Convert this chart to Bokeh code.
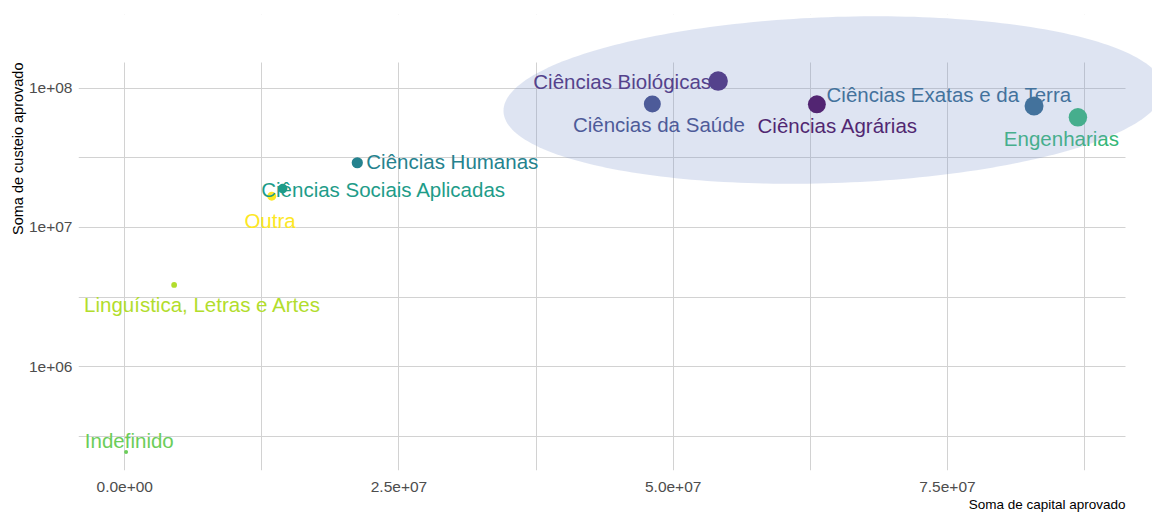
import numpy as np
from bokeh.plotting import figure
from bokeh.models import (FixedTicker, CustomJSTickFormatter, Title, PolyAnnotation,
                          BoxAnnotation, ColumnDataSource, Range1d)
from bokeh.core.properties import value
from bokeh.palettes import Viridis10
from bokeh.embed import file_html
from bokeh.resources import INLINE

# ---------------- data ----------------
areas = ["Ciências Agrárias", "Ciências Biológicas", "Ciências da Saúde",
         "Ciências Exatas e da Terra", "Ciências Humanas", "Ciências Sociais Aplicadas",
         "Engenharias", "Indefinido", "Linguística, Letras e Artes", "Outra"]
capital = [6.31e7, 5.41e7, 4.81e7, 8.29e7, 2.12e7, 1.44e7, 8.69e7, 1.2e5, 4.5e6, 1.34e7]
custeio = [7.64e7, 1.122e8, 7.68e7, 7.43e7, 2.91e7, 1.90e7, 6.16e7, 2.45e5, 3.87e6, 1.675e7]

x_ticks = [0.0, 2.5e7, 5.0e7, 7.5e7]
x_minor = [1.25e7, 3.75e7, 6.25e7, 8.75e7]
y_ticks = [1e6, 1e7, 1e8]
y_minor = [10 ** 5.5, 10 ** 6.5, 10 ** 7.5]

x_title = "Soma de capital aprovado"
y_title = "Soma de custeio aprovado"

# ---------------- styling / layout ----------------
colors = list(Viridis10)
label_dx = [21, -96, 6.6, -85, 95, 101, -16.5, 3.2, 28.4, -1.7]   # px, right
label_dy = [21, 0, 21, -11, -1, 1, 21, -11, 20, 24]               # px, down

# point size: area proportional to total (capital + custeio)
total = np.array(capital) + np.array(custeio)
d_min, d_max = 4.0, 19.5
frac = (total - total.min()) / (total.max() - total.min())
sizes = np.sqrt(d_min ** 2 + (d_max ** 2 - d_min ** 2) * frac)

# panel ranges with 5% expansion (linear x, log y)
xc = np.array(capital)
x0 = xc.min() - 0.05 * (xc.max() - xc.min())
x1 = xc.max() + 0.05 * (xc.max() - xc.min())
ly = np.log10(custeio)
ly0 = ly.min() - 0.05 * (ly.max() - ly.min())
ly1 = ly.max() + 0.05 * (ly.max() - ly.min())

W, H = 1152, 514
PANEL_L, PANEL_T, PANEL_R, PANEL_B = 78, 62, 1125, 470     # grid panel in px
EXT_T, EXT_R = 14, W                                       # frame extends for the ellipse
PW, PH = PANEL_R - PANEL_L, PANEL_B - PANEL_T
x1_ext = x1 + (EXT_R - PANEL_R) * (x1 - x0) / PW
ly1_ext = ly1 + (PANEL_T - EXT_T) * (ly1 - ly0) / PH

p = figure(width=W, height=H, y_axis_type="log",
           x_range=Range1d(x0, x1_ext), y_range=Range1d(10 ** ly0, 10 ** ly1_ext),
           output_backend="svg", toolbar_location=None,
           min_border_left=PANEL_L, min_border_right=W - EXT_R,
           min_border_top=EXT_T, min_border_bottom=H - PANEL_B)
p.outline_line_color = None
p.background_fill_color = "white"
p.border_fill_color = "white"

p.xaxis.ticker = FixedTicker(ticks=x_ticks, minor_ticks=x_minor)
p.yaxis.ticker = FixedTicker(ticks=y_ticks, minor_ticks=y_minor)
p.xaxis.formatter = CustomJSTickFormatter(code="""
const s = tick.toExponential(1);
return s.replace(/e([+-])(\\d)$/, (m, sg, d) => "e" + sg + "0" + d);
""")
p.yaxis.formatter = CustomJSTickFormatter(code="""
const s = tick.toExponential(0);
return s.replace(/e([+-])(\\d)$/, (m, sg, d) => "e" + sg + "0" + d);
""")
for ax in (p.xaxis, p.yaxis):
    ax.axis_line_color = None
    ax.major_tick_line_color = None
    ax.minor_tick_line_color = None
    ax.major_tick_out = 0
    ax.major_tick_in = 0
    ax.minor_tick_out = 0
    ax.minor_tick_in = 0
    ax.major_label_text_font = "Liberation Sans"
    ax.major_label_text_font_size = "15.5px"
    ax.major_label_text_color = "#4d4d4d"
p.xaxis.major_label_standoff = 11
p.yaxis.major_label_standoff = 6

for g in (p.xgrid, p.ygrid):
    g.grid_line_color = "#d2d2d2"
    g.grid_line_width = 1
    g.minor_grid_line_color = "#d2d2d2"
    g.minor_grid_line_width = 1

# white masks so the grid stops at the panel edges
p.add_layout(BoxAnnotation(bottom=10 ** ly1, fill_color="white", fill_alpha=1.0,
                           line_color=None, level="underlay"))
p.add_layout(BoxAnnotation(left=x1, fill_color="white", fill_alpha=1.0,
                           line_color=None, level="underlay"))

src = ColumnDataSource(dict(x=capital, y=custeio, area=areas, color=colors,
                            size=list(sizes), dx=label_dx, dy=label_dy))
p.scatter("x", "y", size="size", fill_color="color", line_color="color",
          line_width=0, source=src)
p.text("x", "y", text="area", text_color="color", x_offset="dx", y_offset="dy",
       text_align="center", text_baseline="middle",
       text_font=value("Liberation Sans"), text_font_size="20.5px", source=src)

# highlighted group (ellipse drawn in screen proportions)
ell_cx, ell_cy = 6.46e7, 8.2e7
ell_a, ell_b, ell_rot = 330.0, 83.0, np.deg2rad(2.0)
t = np.linspace(0, 2 * np.pi, 240)
ex, ey = ell_a * np.cos(t), ell_b * np.sin(t)
rx = ex * np.cos(ell_rot) - ey * np.sin(ell_rot)
ry = ex * np.sin(ell_rot) + ey * np.cos(ell_rot)
exs = ell_cx + rx * (x1 - x0) / PW
eys = 10 ** (np.log10(ell_cy) + ry * (ly1 - ly0) / PH)
p.add_layout(PolyAnnotation(xs=list(exs), ys=list(eys), fill_color="#7b93cb",
                            fill_alpha=0.25, line_color=None))

tx = Title(text=x_title, align="right", text_font="Liberation Sans",
           text_font_size="13.5px", text_font_style="normal", text_color="black",
           standoff=0, offset=EXT_R - PANEL_R)
p.add_layout(tx, "below")
ty = Title(text=y_title, align="right", text_font="Liberation Sans",
           text_font_size="14.5px", text_font_style="normal", text_color="black",
           standoff=0, offset=PANEL_T - EXT_T)
p.add_layout(ty, "left")

open("out.html", "w").write(file_html(p, INLINE))
